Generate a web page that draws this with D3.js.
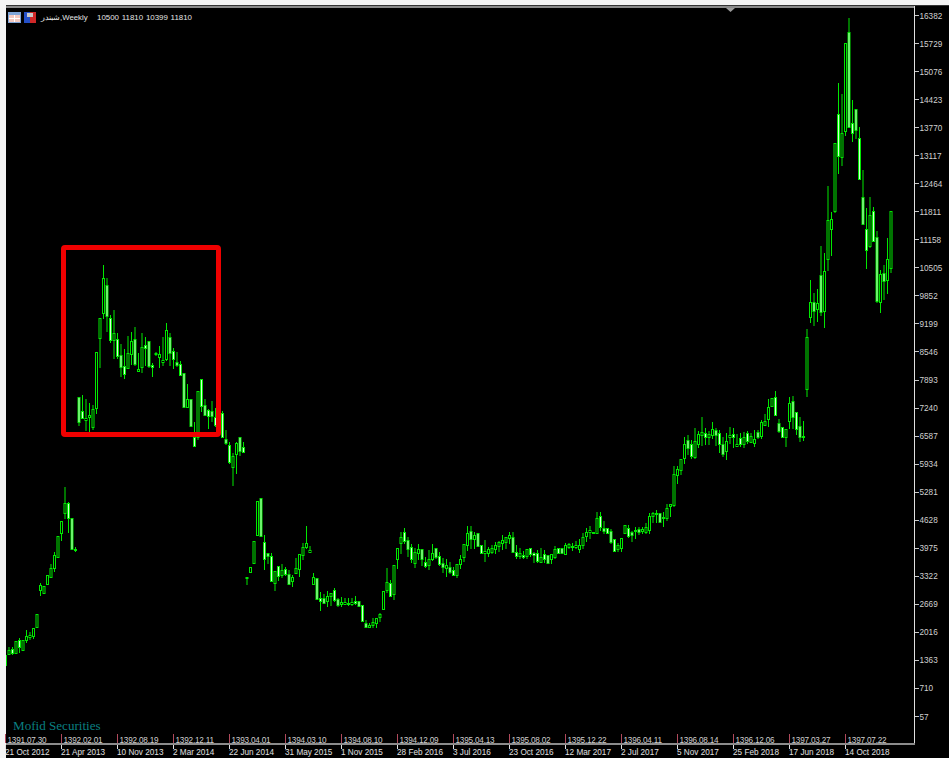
<!DOCTYPE html>
<html><head><meta charset="utf-8">
<script src="https://cdn.jsdelivr.net/npm/d3@7/dist/d3.min.js"></script>
<style>html,body{margin:0;padding:0;background:#000;overflow:hidden}svg{display:block}</style>
</head><body><svg id="c" width="949" height="758"></svg>
<script>
const opens=[1246,1502,1607,1525,1828,1595,1828,1898,1921,2131,
2992,2923,3132,3295,3505,3761,4320,4785,5018,4669,
3947,7486,7160,6951,7021,6788,7230,8860,9443,10095,
9326,8814,8837,8464,8208,8162,8488,8837,8092,8185,
8698,8790,8232,8488,8418,8302,8371,8884,8558,8302,
8255,8045,7254,7440,6555,6555,7906,7300,7184,7160,
7021,6835,7114,6508,6369,5856,6159,6555,6322,3272,
3412,3621,4273,5135,4110,3854,3784,3155,3551,3342,
3481,3365,3202,3388,3481,3807,3994,3877,3132,3272,
2806,2806,2737,2853,2992,2783,2666,2666,2666,2666,
2737,2737,2643,2224,2131,2178,2224,2364,2550,2992,
3155,2899,3714,4087,4343,4157,3994,3621,3854,3947,
3644,3575,3714,3970,3784,3621,3505,3528,3458,3342,
3598,3761,4040,4366,4180,4320,4040,3854,3854,3877,
3947,4017,4087,4110,4203,4226,3877,3784,3807,3784,
3970,3854,3854,3644,3831,3807,3714,3761,3970,3970,
3831,3994,3994,3994,3947,4040,4250,4343,4320,4320,
4715,4436,4436,4366,4180,3947,3970,4320,4436,4343,
4366,4413,4366,4343,4390,4715,4762,4785,4669,4669,
4948,4971,5670,5787,6066,6485,6392,6090,6392,6602,
6648,6555,6602,6718,6648,6392,6229,6555,6625,6346,
6532,6392,6648,6439,6415,6671,6578,6835,6974,7277,
7486,6881,6788,6555,6928,7393,7137,6811,6578,7673,
9349,9698,9536,10327,9489,10700,11399,11818,14076,13075,
13681,15986,13867,14193,13518,12144,11399,11003,11818,11212,
9699,10374,10211,10500];
const closes=[1479,1595,1525,1805,1665,1828,1921,1945,2108,2434,
3109,3085,3342,3505,3807,4250,4599,5018,4669,3947,
3924,6904,6998,6998,7067,7207,8535,9326,10258,9373,
8814,8977,8441,8185,8022,8511,8790,8255,8138,8651,
8628,8208,8185,8511,8488,8348,9047,8511,8371,8232,
7999,7254,7440,6811,6345,7626,7277,7067,7044,7044,
6835,7067,6555,6415,5973,6113,6415,6229,6206,3295,
3528,4133,5065,4250,3714,3784,3202,3435,3318,3458,
3365,3132,3295,3505,3831,3994,4087,3924,3295,2783,
2737,2690,2853,2923,2760,2643,2713,2713,2690,2713,
2690,2620,2271,2131,2178,2247,2341,2434,2969,3179,
2853,3575,3970,4226,4133,3947,3714,3877,3947,3714,
3551,3714,3854,3761,3598,3528,3575,3412,3342,3598,
3714,4064,4320,4180,4273,4017,3854,3900,3947,3970,
4040,4110,4157,4226,4273,3877,3784,3854,3761,3947,
3831,3807,3668,3761,3714,3621,3831,3947,3854,3854,
4040,4064,4017,4040,4040,4226,4343,4390,4343,4669,
4459,4366,4320,4110,3901,4040,4203,4506,4250,4273,
4390,4343,4413,4459,4715,4785,4785,4576,4692,4902,
4995,5693,5810,6043,6392,6299,6113,6462,6625,6671,
6555,6625,6741,6602,6392,6159,6462,6602,6555,6392,
6392,6555,6462,6578,6508,6555,6904,6928,7254,7463,
7067,6695,6555,6741,7347,7021,6741,6555,6555,8884,
9698,9489,9675,9466,10420,11608,11631,13401,13098,13634,
15730,13774,13634,13704,12563,11515,10910,11725,11119,9722,
10351,10188,10700,11810];
const highs=[1479,1665,1665,1805,1875,1828,2061,2014,2108,2434,
3155,3085,3342,3598,3877,4250,4599,5391,5042,4669,
3994,7486,7533,7440,7347,7300,8535,9326,10560,10258,
9396,9512,8977,8721,8604,8907,9000,9116,8511,8977,
8884,8790,8278,8535,8674,8884,9210,8977,8628,8535,
8325,8045,7789,7440,6904,7626,7906,7440,7207,7393,
7230,7300,7160,6718,6439,6182,6439,6555,6439,3295,
3528,4133,5065,5135,4273,3854,3854,3435,3551,3598,
3528,3458,3342,3738,3831,4087,4483,4017,3388,3272,
2946,2899,2969,2923,3039,2806,2830,2806,2806,2806,
2853,2737,2643,2294,2224,2341,2341,2457,2969,3505,
3225,3575,3970,4343,4436,4226,4064,3970,4064,3947,
3761,3924,4064,3970,3877,3738,3714,3644,3528,3598,
3807,4064,4483,4483,4343,4320,4040,4157,3994,4040,
4110,4133,4273,4226,4343,4343,4040,3970,3900,3947,
3970,3877,3924,3970,3924,3807,3831,4017,3970,3970,
4087,4087,4087,4133,4180,4320,4436,4483,4343,4808,
4808,4599,4436,4413,4180,4087,4203,4506,4506,4366,
4459,4459,4459,4552,4785,4808,4855,4785,4808,4995,
4995,5880,5880,6043,6555,6602,6485,6765,6695,7021,
6765,6695,6904,6765,6718,6555,6648,6788,6765,6625,
6648,6671,6695,6648,6718,6718,6951,7091,7440,7463,
7626,6974,6788,6741,7486,7510,7137,7021,6928,9070,
10211,9908,10001,11003,10840,12400,11794,13401,14798,14542,
15730,16312,14403,14193,13774,12772,11888,12144,11911,11352,
10444,10560,11189,11810];
const lows=[1246,1502,1502,1514,1549,1595,1782,1851,1875,2131,
2876,2923,3132,3295,3435,3761,4157,4669,4343,3947,
3901,6835,6998,6718,6648,6741,7114,8185,9326,9023,
8767,8395,8395,7975,7929,8162,8255,8232,8092,8069,
8232,8185,7975,8465,8185,8232,8348,8232,8162,8208,
7999,7254,7254,6811,6345,6508,7160,7067,6765,6928,
6811,6718,6555,6392,5950,5437,5717,6136,6206,3132,
3412,3621,4273,4250,3481,3621,3202,2992,3225,3295,
3342,3132,3085,3388,3318,3714,3970,3877,3132,2783,
2527,2690,2620,2643,2737,2620,2620,2666,2643,2643,
2666,2620,2271,2131,2131,2131,2131,2271,2550,2946,
2853,2783,3505,3854,4087,3784,3644,3528,3714,3575,
3528,3481,3691,3738,3575,3412,3318,3388,3342,3295,
3505,3668,3924,3970,3970,4017,3854,3668,3784,3854,
3854,3900,3947,3970,4087,3877,3738,3738,3738,3738,
3784,3644,3644,3644,3644,3621,3621,3738,3854,3854,
3831,3970,3924,3970,3877,3970,4133,4203,4320,4320,
4390,4320,4320,4087,3901,3901,3901,4320,4226,4133,
4203,4296,4320,4320,4320,4576,4576,4576,4483,4622,
4716,4948,5484,5693,5950,6159,6066,6066,6322,6369,
6392,6392,6532,6369,6206,6113,6043,6415,6322,6346,
6346,6322,6415,6439,6346,6532,6532,6835,6811,7277,
7067,6671,6555,6346,6765,6765,6625,6462,6485,7510,
9233,9163,9256,9396,9117,10444,10793,11794,12703,12889,
13587,13774,13448,13518,12563,11515,10490,10980,11771,9699,
9466,9769,9908,10399];
const priceTicks=[16382,15729,15076,14423,13770,13117,12464,11811,11158,10505,9852,9199,8546,7893,7240,6587,5934,5281,4628,3975,3322,2669,2016,1363,710,57];
const tickBars=[0,16,32,48,64,80,96,112,128,144,160,176,192,208,224,240];
const shamsiLabels=["1391.07.30","1392.02.01","1392.08.19","1392.12.11","1393.04.01","1394.03.10","1394.08.10","1394.12.09","1395.04.13","1395.08.02","1395.12.22","1396.04.11","1396.08.14","1396.12.06","1397.03.27","1397.07.22"];
const gregorianLabels=["21 Oct 2012","21 Apr 2013","10 Nov 2013","2 Mar 2014","22 Jun 2014","31 May 2015","1 Nov 2015","28 Feb 2016","3 Jul 2016","23 Oct 2016","12 Mar 2017","2 Jul 2017","5 Nov 2017","25 Feb 2018","17 Jun 2018","14 Oct 2018"];
const symbolName="شبندر";
const timeframe="Weekly";
const watermark="Mofid Securities";

const svg=d3.select("#c");
const FONT="'Liberation Sans',Arial,sans-serif";
const x=d3.scaleLinear().domain([0,253]).range([5.5,5.5+3.5*253]);
const y=d3.scaleLinear().domain([57,16382]).range([716,15]);
const py=v=>Math.round(y(v))+0.5;

svg.append("rect").attr("width",949).attr("height",758).attr("fill","#000");

const G="#00e800";
const candles=svg.append("g");
const bars=d3.range(opens.length);
candles.selectAll("line").data(bars).join("line")
  .attr("x1",i=>x(i)).attr("x2",i=>x(i))
  .attr("y1",i=>py(highs[i])-0.5).attr("y2",i=>py(lows[i])+0.5)
  .attr("stroke",G).attr("stroke-width",1);
candles.selectAll("rect").data(bars).join("rect")
  .attr("x",i=>x(i)-1).attr("width",2)
  .attr("y",i=>Math.min(py(opens[i]),py(closes[i])))
  .attr("height",i=>Math.abs(py(opens[i])-py(closes[i])))
  .attr("fill",i=>closes[i]>=opens[i]?"#000":"#d4ffd4")
  .attr("stroke",G).attr("stroke-width",1);

// highlight box
svg.append("rect").attr("x",63.5).attr("y",247.5).attr("width",155).attr("height",187)
  .attr("fill","none").attr("stroke","#f00000").attr("stroke-width",5).attr("rx",1.5);

// frame
svg.append("rect").attr("x",0).attr("y",0).attr("width",6).attr("height",758).attr("fill","#f4f4f4");
svg.append("rect").attr("x",0).attr("y",0).attr("width",949).attr("height",5).attr("fill","#f4f4f4");
svg.append("rect").attr("x",6).attr("y",5).attr("width",943).attr("height",1).attr("fill","#333");
svg.append("rect").attr("x",6).attr("y",6).attr("width",908).attr("height",2).attr("fill","#8a8a8a");
svg.append("rect").attr("x",914).attr("y",6).attr("width",1).attr("height",738).attr("fill","#e0e0e0");
svg.append("rect").attr("x",6).attr("y",743).attr("width",909).attr("height",2).attr("fill","#8c8c8c");
svg.append("path").attr("d","M726 8L735 8L730.5 12Z").attr("fill","#9a9a9a");

// price axis
const pa=svg.append("g");
pa.selectAll("line").data(priceTicks).join("line")
  .attr("x1",915).attr("x2",919).attr("y1",d=>Math.round(y(d))+.5).attr("y2",d=>Math.round(y(d))+.5)
  .attr("stroke","#c8c8c8");
pa.selectAll("text").data(priceTicks).join("text")
  .attr("x",919.5).attr("y",d=>y(d)+3.5).text(d=>d)
  .attr("fill","#d0d0d0").attr("font-family",FONT).attr("font-size",8.2);

// time axis
const ta=svg.append("g");
tickBars.forEach((b,k)=>{
  const tx=Math.round(x(b)-0.5)+.5;
  ta.append("line").attr("x1",tx).attr("x2",tx).attr("y1",734).attr("y2",743).attr("stroke","#b04a5c");
  ta.append("line").attr("x1",tx).attr("x2",tx).attr("y1",745).attr("y2",749).attr("stroke","#e0e0e0");
  ta.append("text").attr("x",tx+2).attr("y",742.5).text(shamsiLabels[k])
    .attr("fill","#cfcfcf").attr("font-family",FONT).attr("font-size",8.2).attr("letter-spacing",-0.2);
  ta.append("text").attr("x",tx-0.5).attr("y",755).text(gregorianLabels[k])
    .attr("fill","#e0e0e0").attr("font-family",FONT).attr("font-size",8.2);
});

// watermark
svg.append("text").attr("x",13).attr("y",730).text(watermark)
  .attr("fill","#0a7f80").attr("font-family","'Liberation Serif',serif").attr("font-size",13.1);

// header icons
const ic=svg.append("g");
ic.append("rect").attr("x",8).attr("y",12).attr("width",13).attr("height",11).attr("fill","#7fa6d8");
ic.append("rect").attr("x",9).attr("y",15).attr("width",11).attr("height",7).attr("fill","#f3c9c0");
ic.append("rect").attr("x",14).attr("y",15).attr("width",1).attr("height",7).attr("fill","#fff");
ic.append("rect").attr("x",9).attr("y",18).attr("width",11).attr("height",1).attr("fill","#fff");
ic.append("rect").attr("x",24).attr("y",12).attr("width",6).attr("height",11).attr("fill","#2450c8");
ic.append("rect").attr("x",30).attr("y",12).attr("width",6).attr("height",11).attr("fill","#d02828");
ic.append("rect").attr("x",27).attr("y",13).attr("width",6).attr("height",4).attr("fill","#c8c8c8");

// header text
const last=opens.length-1;
svg.append("text").attr("x",41).attr("y",20).text(symbolName+","+timeframe)
  .attr("fill","#e4e4e4").attr("font-family",FONT).attr("font-size",7.8);
svg.append("text").attr("x",97).attr("y",20)
  .text([opens[last],highs[last],lows[last],closes[last]].join(" "))
  .attr("fill","#e4e4e4").attr("font-family",FONT).attr("font-size",7.9).attr("word-spacing",0.6);
</script></body></html>
